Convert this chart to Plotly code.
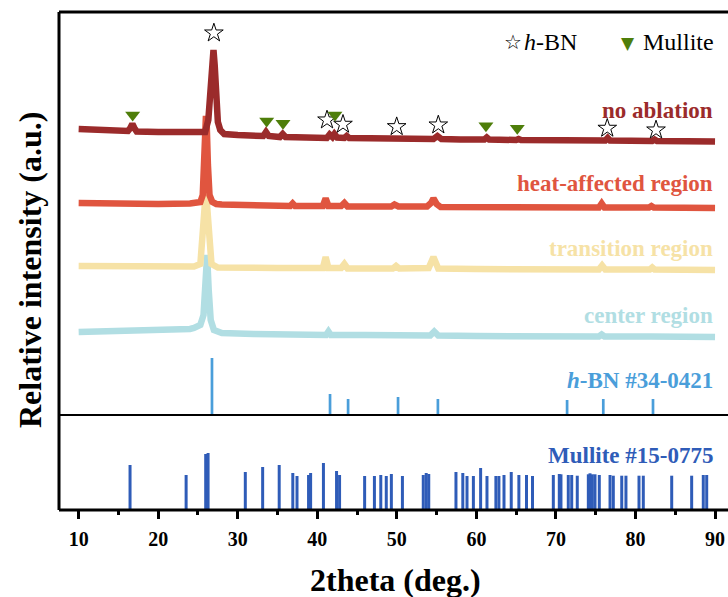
import plotly.graph_objects as go

# ---------------- data (2theta in deg, intensity in a.u., curves already stacked) -------------
no_abl_x = [10, 12, 14, 16.2, 16.5, 16.75, 17.0, 17.3, 20, 23, 25.3, 25.9, 26.3, 26.55, 26.8, 26.95,
            27.1, 27.3, 27.5, 27.8, 28.3, 30, 33.2, 33.55, 33.9, 35.3, 35.65, 36.0, 38, 41.2, 41.55,
            41.9, 42.15, 42.5, 43.4, 43.7, 44, 47, 49.9, 50.2, 50.6, 54.6, 55.1, 55.6, 58, 61.0, 61.3,
            61.6, 65, 65.3, 65.6, 70, 76.2, 76.5, 76.8, 82.1, 82.4, 82.7, 86, 90]
no_abl_y = [286, 285.5, 284.5, 284, 287, 291, 287, 283.5, 283, 283, 283.5, 283, 295, 320, 355, 365,
            350, 315, 293, 285, 281, 280, 279, 283, 279, 278, 281, 278, 277.5, 277, 280.5,
            278, 281, 277.5, 277, 279, 277, 276.5, 276.5, 277.5, 276, 276, 279, 276, 275.5, 275.5, 277.5,
            275.5, 275, 276, 275, 275, 274.5, 277, 274.5, 274, 275.5, 274, 274, 273.5]

heat_x = [10, 13, 16.7, 20, 24, 25.0, 25.3, 25.6, 25.8, 25.95, 26.0, 26.1, 26.25, 26.45, 26.8, 27.3,
          28, 30, 33.5, 35.5, 36.6, 36.9, 37.2, 40.7, 41.05, 41.4, 43.0, 43.4, 43.8, 47, 49.3, 49.7,
          50.2, 53.8, 54.3, 54.6, 55.0, 55.5, 60, 65, 70, 75.4, 75.75, 76.1, 81.7, 82.0, 82.3, 90]
heat_y = [212, 211.5, 211.5, 211, 211.5, 212.5, 213, 220, 250, 290, 299, 290, 250, 220, 213, 211,
          210.5, 210, 209.5, 209.5, 209, 211.5, 209, 209, 216.5, 209, 209, 212, 208.5, 208.5, 208.5, 210.5,
          208.5, 208.5, 212, 216.5, 211, 208, 208, 208, 207.5, 207.5, 211.5, 207.5, 207.5, 209, 207.5, 207]

trans_x = [10, 14, 20, 24.5, 25.3, 25.7, 26.0, 26.3, 26.7, 27.5, 30, 35, 40.7, 41.05, 41.4, 43.0,
           43.4, 43.8, 49.5, 49.9, 50.3, 54.0, 54.6, 55.2, 60, 70, 75.4, 75.8, 76.2, 81.8, 82.1, 82.4, 90]
trans_y = [149, 148.5, 148, 148.5, 151, 195, 225, 193, 151, 147.5, 147, 147, 147, 158, 147, 147,
           151, 146.5, 146.5, 149, 146.5, 147, 158, 146.5, 146, 145.5, 145.5, 149.5, 145.5, 145.5, 147.5,
           145.5, 145]

center_x = [10, 15, 20, 24, 24.5, 25.3, 25.7, 25.95, 26.15, 26.35, 26.6, 27.0, 28, 32, 36, 41.1, 41.4,
            41.7, 46, 50, 54.2, 54.7, 55.2, 60, 70, 75.4, 75.75, 76.1, 82, 90]
center_y = [83, 83.5, 84.5, 86, 87, 90, 100, 125, 160, 125, 95, 85, 82, 81, 80.5, 80, 83.5,
            80, 80, 79.5, 79.5, 83.5, 79.5, 79, 79, 78.5, 80.5, 78.5, 78.5, 78]

# phase markers above the "no ablation" pattern
hbn_mark_x = [27.0, 41.22, 43.23, 49.98, 55.21, 76.45, 82.58]
hbn_mark_y = [382, 295, 290.7, 288.3, 290, 286.7, 285]
mul_mark_x = [16.79, 33.64, 35.69, 42.22, 61.2, 65.14]
mul_mark_y = [300, 294, 291.7, 300, 289.3, 286.7]

# reference cards
hbn_pos = [26.76, 41.6, 43.87, 50.15, 55.16, 71.4, 75.95, 82.2]
hbn_int = [57, 21, 16, 18, 16, 15, 16, 16]

mul_pos = [16.46, 23.51, 25.97, 26.27, 30.95, 33.13, 35.21, 36.92, 37.45, 38.9, 39.16, 40.77, 42.42,
           42.8, 45.95, 47.18, 47.98, 48.67, 49.31, 50.7, 53.32, 53.69, 54.01, 57.43, 58.29, 58.82,
           59.62, 60.53, 61.33, 62.45, 62.83, 63.47, 64.38, 65.34, 66.3, 67.05, 69.67, 70.42, 70.63,
           71.55, 71.98, 72.68, 74.07, 74.28, 74.57, 74.91, 75.45, 76.8, 77.21, 78.27, 78.8, 80.44,
           80.98, 84.55, 87.06, 88.52, 88.95]
mul_int = [45, 35, 56, 57, 38, 43, 45, 37, 34, 35, 37, 47, 39,
           35, 34, 34, 35, 34, 36, 34, 35, 37, 36, 38, 37, 34,
           34, 42, 34, 34, 34, 35, 38, 35, 35, 34, 35, 36, 35.7,
           35, 35, 34.3, 35.7, 36.7, 35.7, 35.7, 35, 35, 34.3, 34.3, 34.3, 34.3,
           34.3, 34.3, 34.3, 35, 35]

x_ticks = [10, 20, 30, 40, 50, 60, 70, 80, 90]

# ---------------- styling -------------
C_NO = "#9B2B2B"
C_HEAT = "#E0553F"
C_TRANS = "#F6E2A6"
C_CENTER = "#B1DEE3"
C_HBN = "#4A9EDA"
C_MUL = "#2F5CB8"
C_GREEN = "#4E7E0A"
SERIF = "Liberation Serif"

fig = go.Figure()

for xs, ys, col in [(center_x, center_y, C_CENTER), (trans_x, trans_y, C_TRANS),
                    (heat_x, heat_y, C_HEAT), (no_abl_x, no_abl_y, C_NO)]:
    fig.add_trace(go.Scatter(x=xs, y=ys, mode="lines", xaxis="x", yaxis="y",
                             line=dict(color=col, width=6.5), hoverinfo="skip"))

fig.add_trace(go.Scatter(x=hbn_mark_x, y=hbn_mark_y, mode="markers", xaxis="x", yaxis="y",
                         marker=dict(symbol="star-open", size=14, color="black",
                                     line=dict(color="black", width=1.0)), hoverinfo="skip"))
fig.add_trace(go.Scatter(x=mul_mark_x, y=mul_mark_y, mode="markers", xaxis="x", yaxis="y",
                         marker=dict(symbol="triangle-down", size=13, color=C_GREEN,
                                     line=dict(width=0)), hoverinfo="skip"))


def sticks(pos, inten):
    xs, ys = [], []
    for p, h in zip(pos, inten):
        xs += [p, p, None]
        ys += [0, h, None]
    return xs, ys


sx, sy = sticks(hbn_pos, hbn_int)
fig.add_trace(go.Scatter(x=sx, y=sy, mode="lines", xaxis="x", yaxis="y",
                         line=dict(color=C_HBN, width=2.7), hoverinfo="skip"))
sx, sy = sticks(mul_pos, mul_int)
fig.add_trace(go.Scatter(x=sx, y=sy, mode="lines", xaxis="x", yaxis="y2",
                         line=dict(color=C_MUL, width=3), hoverinfo="skip"))

W, H = 728, 597
L, R, T, B = 59, 0, 12, 87
PW, PH = W - L - R, H - T - B
split = 95 / PH


def px(xpix):
    return (xpix - L) / PW


def py(ypix):
    return (H - B - ypix) / PH


annos = []
labels = [("no ablation", C_NO, 110), ("heat-affected region", C_HEAT, 184),
          ("transition region", C_TRANS, 248), ("center region", C_CENTER, 315),
          ("<i>h</i>-BN #34-0421", C_HBN, 380), ("Mullite #15-0775", C_MUL, 455)]
for txt, col, yp in labels:
    annos.append(dict(text="<b>" + txt + "</b>", x=px(715), y=py(yp), xref="paper", yref="paper",
                      xanchor="right", yanchor="middle", showarrow=False,
                      font=dict(family=SERIF, size=23, color=col)))

# legend (top right)
annos += [
    dict(text="☆", x=px(513), y=py(42), xref="paper", yref="paper", xanchor="center",
         yanchor="middle", showarrow=False, font=dict(family="DejaVu Sans", size=20, color="black")),
    dict(text="<i>h</i>-BN", x=px(522), y=py(42), xref="paper", yref="paper", xanchor="left",
         yanchor="middle", showarrow=False, font=dict(family=SERIF, size=24, color="black")),
    dict(text="▼", x=px(628), y=py(43), xref="paper", yref="paper", xanchor="center",
         yanchor="middle", showarrow=False, font=dict(family="DejaVu Sans", size=17, color=C_GREEN)),
    dict(text="Mullite", x=px(641), y=py(42), xref="paper", yref="paper", xanchor="left",
         yanchor="middle", showarrow=False, font=dict(family=SERIF, size=24, color="black")),
]

# axis titles
annos.append(dict(text="<b>2theta (deg.)</b>", x=px(395), y=py(580), xref="paper", yref="paper",
                  xanchor="center", yanchor="middle", showarrow=False,
                  font=dict(family=SERIF, size=32, color="black")))
annos.append(dict(text="<b>Relative intensity (a.u.)</b>", x=px(30), y=py(270), xref="paper",
                  yref="paper", xanchor="center", yanchor="middle", showarrow=False, textangle=-90,
                  font=dict(family=SERIF, size=32, color="black")))

shapes = [
    dict(type="line", xref="paper", yref="paper", x0=0, x1=1, y0=1, y1=1, line=dict(color="black", width=3)),
    dict(type="line", xref="paper", yref="paper", x0=0, x1=1, y0=0, y1=0, line=dict(color="black", width=3)),
    dict(type="line", xref="paper", yref="paper", x0=0, x1=0, y0=0, y1=1, line=dict(color="black", width=3)),
    dict(type="line", xref="paper", yref="paper", x0=0, x1=1, y0=split, y1=split, line=dict(color="black", width=2)),
]

x_left = (L + 0.9) / 7.955
x_right = (W + 0.9) / 7.955

fig.update_layout(
    width=W, height=H, margin=dict(l=L, r=R, t=T, b=B, pad=0),
    paper_bgcolor="white", plot_bgcolor="white", showlegend=False,
    xaxis=dict(range=[x_left, x_right], anchor="y2", domain=[0, 1], showgrid=False, zeroline=False,
               showline=False, tickmode="array", tickvals=x_ticks, ticktext=[str(v) for v in x_ticks],
               ticks="outside", ticklen=8, tickwidth=3, tickcolor="black", ticklabelstandoff=3,
               tickfont=dict(family=SERIF, size=20, color="black", weight="bold"),
               minor=dict(dtick=5, tick0=5, ticks="outside", ticklen=4, tickwidth=3, tickcolor="black",
                          showgrid=False)),
    yaxis=dict(domain=[split, 1], range=[0, 403], anchor="x", visible=False, showgrid=False),
    yaxis2=dict(domain=[0, split], range=[0, 95], anchor="x", visible=False, showgrid=False),
    annotations=annos, shapes=shapes,
)

fig.write_html("out.html")
